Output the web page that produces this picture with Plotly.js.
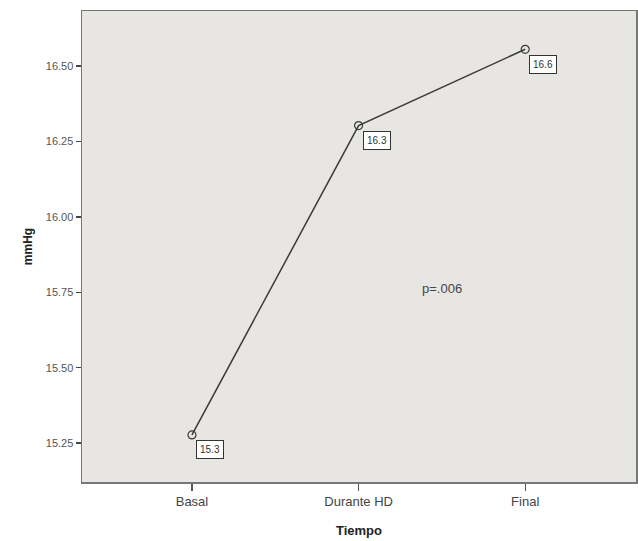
<!DOCTYPE html>
<html>
<head>
<meta charset="utf-8">
<script src="https://cdn.plot.ly/plotly-3.0.1.min.js"></script>
<style>html,body{margin:0;padding:0;background:#fff;}#chart{width:638px;height:541px;}</style>
</head>
<body>
<div id="chart"></div>
<script>
const categories = ["Basal", "Durante HD", "Final"];
const values = [15.277, 16.303, 16.556];
const valueLabels = ["15.3", "16.3", "16.6"];
const yTicks = [15.25, 15.50, 15.75, 16.00, 16.25, 16.50];
const yTickLabels = ["15.25", "15.50", "15.75", "16.00", "16.25", "16.50"];
const pText = "p=.006";

const trace = {
  x: categories,
  y: values,
  type: "scatter",
  mode: "lines+markers",
  line: {color: "#3a3a3a", width: 1.5},
  marker: {symbol: "circle-open", size: 8, color: "#3a3a3a", line: {width: 1.2, color: "#3a3a3a"}},
  hoverinfo: "skip",
  showlegend: false
};

const annotations = categories.map((c, i) => ({
  x: c, y: values[i], xref: "x", yref: "y",
  text: valueLabels[i], showarrow: false,
  xshift: 18, yshift: -15,
  bordercolor: "#333", borderwidth: 1, borderpad: 3,
  bgcolor: "#ffffff",
  font: {family: "Liberation Sans, Arial, sans-serif", size: 10, color: "#333"}
}));
annotations.push({
  x: 1.5, y: 15.764, xref: "x", yref: "y",
  text: pText, showarrow: false,
  font: {family: "Liberation Sans, Arial, sans-serif", size: 13, color: "#444"}
});

const layout = {
  width: 638, height: 541,
  margin: {l: 82, r: 2, t: 11, b: 59},
  paper_bgcolor: "#ffffff",
  plot_bgcolor: "#e8e6e3",
  font: {family: "Liberation Sans, Arial, sans-serif", size: 11, color: "#444"},
  xaxis: {
    type: "category",
    range: [-0.66, 2.665],
    showgrid: false, zeroline: false,
    showline: true, mirror: true, linecolor: "#777", linewidth: 1.5,
    ticks: "outside", ticklen: 7, tickwidth: 1.2, tickcolor: "#555",
    tickfont: {size: 13, color: "#444"},
    title: {text: "<b>Tiempo</b>", font: {size: 13, color: "#222"}, standoff: 18}
  },
  yaxis: {
    range: [15.121, 16.683],
    tickvals: yTicks, ticktext: yTickLabels,
    showgrid: false, zeroline: false,
    showline: true, mirror: true, linecolor: "#777", linewidth: 1.5,
    ticks: "outside", ticklen: 5, tickwidth: 1.5, tickcolor: "#444",
    tickfont: {size: 11, color: "#555"},
    title: {text: "<b>mmHg</b>", font: {size: 12, color: "#222"}, standoff: 10}
  },
  annotations: annotations
};

Plotly.newPlot("chart", [trace], layout, {staticPlot: true, displayModeBar: false});
</script>
</body>
</html>
